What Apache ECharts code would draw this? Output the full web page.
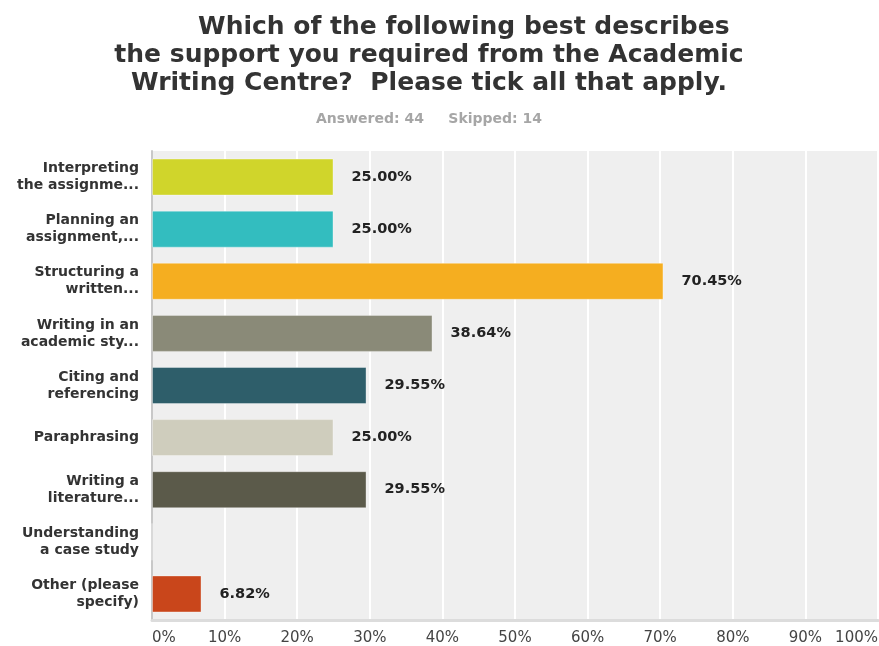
<!DOCTYPE html>
<html>
<head>
<meta charset="utf-8">
<script src="https://cdn.jsdelivr.net/npm/echarts@6/dist/echarts.min.js"></script>
<style>
  html, body { margin: 0; padding: 0; background: #fff; }
  #chart { width: 879px; height: 646px; }
</style>
</head>
<body>
<div id="chart"></div>
<script>
// survey answers, top to bottom
const categories = [
  'Interpreting\nthe assignme...',
  'Planning an\nassignment,...',
  'Structuring a\nwritten...',
  'Writing in an\nacademic sty...',
  'Citing and\nreferencing',
  'Paraphrasing',
  'Writing a\nliterature...',
  'Understanding\na case study',
  'Other (please\nspecify)'
]
const percentages = [25.0, 25.0, 70.45, 38.64, 29.55, 25.0, 29.55, 0, 6.82]
const barColors = ['#d0d52b', '#33bdbf', '#f5ae20', '#8a8a78', '#2e5e6a', '#cfcdbd', '#5b5a4a', '#cccccc', '#c9461b']
const xTicks = [0, 10, 20, 30, 40, 50, 60, 70, 80, 90, 100]

const chart = echarts.init(document.getElementById('chart'))

const option = {
  backgroundColor: '#fff',
  animation: false,
  title: [
    {
      text: '        Which of the following best describes\nthe support you required from the Academic\nWriting Centre?  Please tick all that apply.',
      left: 429,
      top: 13,
      textAlign: 'center',
      padding: 0,
      textStyle: {
        fontFamily: 'DejaVu Sans',
        fontWeight: 'bold',
        fontSize: 25,
        lineHeight: 28,
        color: '#333333'
      }
    },
    {
      text: 'Answered: 44     Skipped: 14',
      left: 429,
      top: 112,
      textAlign: 'center',
      padding: 0,
      textStyle: {
        fontFamily: 'DejaVu Sans',
        fontWeight: 'bold',
        fontSize: 14,
        color: '#a6a6a6'
      }
    }
  ],
  grid: {
    left: 152,
    right: 1,
    top: 151,
    bottom: 26,
    outerBoundsMode: 'none',
    show: true,
    backgroundColor: '#efefef',
    borderWidth: 0
  },
  xAxis: {
    type: 'value',
    min: 0,
    max: 100,
    interval: 10,
    axisLine: { show: true, lineStyle: { color: '#dcdcdc', width: 3 } },
    axisTick: { show: false },
    splitLine: { show: true, lineStyle: { color: '#ffffff', width: 2 } },
    axisLabel: {
      margin: 11,
      fontFamily: 'DejaVu Sans',
      fontSize: 15,
      color: '#444',
      alignMinLabel: 'left',
      alignMaxLabel: 'right',
      formatter: v => xTicks.includes(v) ? v + '%' : ''
    }
  },
  yAxis: {
    type: 'category',
    inverse: true,
    data: categories,
    axisLine: { show: true, lineStyle: { color: '#c8c8c8', width: 2 } },
    axisTick: { show: false },
    axisLabel: {
      margin: 13,
      fontFamily: 'DejaVu Sans',
      fontWeight: 'bold',
      fontSize: 14,
      lineHeight: 17,
      color: '#333',
      align: 'right'
    }
  },
  series: [
    {
      type: 'bar',
      barWidth: 37,
      data: percentages.map((v, i) => ({
        value: v,
        itemStyle: { color: barColors[i] }
      })),
      itemStyle: {
        borderColor: 'rgba(255,255,255,0.35)',
        borderWidth: 1
      },
      label: {
        show: true,
        position: 'right',
        distance: 18,
        fontFamily: 'DejaVu Sans',
        fontWeight: 'bold',
        fontSize: 14.5,
        color: '#222',
        formatter: p => p.value > 0 ? p.value.toFixed(2) + '%' : ''
      }
    }
  ]
}

chart.setOption(option)
</script>
</body>
</html>
